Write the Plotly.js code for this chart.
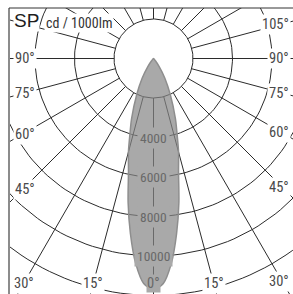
<!DOCTYPE html>
<html><head><meta charset="utf-8">
<script src="https://cdn.plot.ly/plotly-3.0.1.min.js"></script>
<style>html,body{margin:0;padding:0;background:#fff;overflow:hidden}</style>
</head><body><div id="chart" style="width:293px;height:294px"></div>
<script>
// Luminous intensity distribution (cd / 1000 lm), angle from nadir in degrees
const gammaDeg  = [0, 2.5, 5, 7.5, 10, 12.5, 15, 17.5, 20, 25, 30, 35, 40, 45];
const intensity = [11700, 11400, 10400, 8950, 7400, 5850, 4900, 3950, 3250, 2000, 1150, 500, 150, 0];
// grid
const ringValues = [2000, 4000, 6000, 8000, 10000, 12000, 14000];
const ringLabelValues = [4000, 6000, 8000, 10000];
const ringLabelText = ['4000', '6000', '8000', '10000'];
const spokeAngles = [0,15,30,45,60,75,90,105,120,135,150,165,180,195,210,225,240,255,270,285,300,315,330,345];
const angleLabelGamma = [-90, -75, -60, -45, -30, -15, 0, 15, 30, 45, 60, 75, 90, 105];
const angleLabelText  = ['90°','75°','60°','45°','30°','15°','0°','15°','30°','45°','60°','75°','90°','105°'];
const chartTitle = 'SP';
const unitText = 'cd / 1000lm';

// geometry (pixel frame)
const W = 293, H = 294, ML = 9, MT = 8;
const k = 2000 / 39.5;           // cd per pixel
const cx = 153.5, cy = 58.5;     // pole position in pixels
const dX = px => (px - cx) * k;
const dY = py => -(py - cy) * k;
const rad = d => d * Math.PI / 180;
const pol = (g, r) => [r * Math.sin(rad(g)), -r * Math.cos(rad(g))];

// rings
const rx = [], ry = [];
ringValues.forEach(v => {
  for (let a = 0; a <= 360; a += 2) { const p = pol(a, v); rx.push(p[0]); ry.push(p[1]); }
  rx.push(null); ry.push(null);
});
// spokes
const sx = [], sy = [];
spokeAngles.forEach(a => {
  const p0 = pol(a, ringValues[0]), p1 = pol(a, 20000);
  sx.push(p0[0], p1[0], null); sy.push(p0[1], p1[1], null);
});
// distribution polygon (symmetric)
const lx = [], ly = [];
for (let i = gammaDeg.length - 1; i >= 0; i--) { const p = pol(-gammaDeg[i], intensity[i]); lx.push(p[0]); ly.push(p[1]); }
for (let i = 1; i < gammaDeg.length; i++) { const p = pol(gammaDeg[i], intensity[i]); lx.push(p[0]); ly.push(p[1]); }

const gridColor = '#2b2b2b';
const fillComposite = '#a9a9a9';
const traces = [
  {x: rx, y: ry, mode: 'lines', line: {color: gridColor, width: 1}, hoverinfo: 'skip', showlegend: false},
  {x: sx, y: sy, mode: 'lines', line: {color: gridColor, width: 1}, hoverinfo: 'skip', showlegend: false},
  {x: lx, y: ly, mode: 'lines', fill: 'toself', fillcolor: 'rgba(132,132,132,0.7)',
   line: {color: '#8e8e8e', width: 1.5, shape: 'spline', smoothing: 0.8}, hoverinfo: 'skip', showlegend: false}
];

const narrow = '"Roboto Condensed", "DejaVu Sans Condensed", sans-serif';
const annotations = [];
ringLabelValues.forEach((v, i) => {
  annotations.push({x: 0, y: -v, xref: 'x', yref: 'y', text: ringLabelText[i], showarrow: false,
    font: {family: narrow, size: 13.5, color: '#686868'}, bgcolor: fillComposite, borderpad: 2,
    xanchor: 'center', yanchor: 'middle'});
});
// angle labels on an inset rectangle
const rect = {x0: 22.5, x1: 282.5, y0: 24, y1: 283.5};
angleLabelGamma.forEach((g, i) => {
  const dx = Math.sin(rad(g)), dy = Math.cos(rad(g));
  const cand = [];
  if (dx < -1e-9) cand.push({t: (rect.x0 - cx) / dx, side: 'left'});
  if (dx > 1e-9) cand.push({t: (rect.x1 - cx) / dx, side: 'right'});
  if (dy > 1e-9) cand.push({t: (rect.y1 - cy) / dy, side: 'bottom'});
  if (dy < -1e-9) cand.push({t: (rect.y0 - cy) / dy, side: 'top'});
  const best = cand.filter(c => c.t > 0).sort((a, b) => a.t - b.t)[0];
  let px = cx + best.t * dx; const py = cy + best.t * dy;
  let xanchor = 'center';
  if (best.side === 'left') { px = 13; xanchor = 'left'; }
  if (best.side === 'right' || best.side === 'top') { px = 290.5; xanchor = 'right'; }
  const inside = g === 0;
  annotations.push({x: dX(px), y: dY(py), xref: 'x', yref: 'y', text: angleLabelText[i], showarrow: false,
    font: {family: narrow, size: 14.5, color: inside ? '#686868' : '#4a4a4a'},
    bgcolor: inside ? fillComposite : '#ffffff', borderpad: inside ? 0 : 1,
    xanchor: xanchor, yanchor: 'middle'});
});
annotations.push({x: dX(13), y: dY(20), xref: 'x', yref: 'y', text: chartTitle, showarrow: false,
  font: {family: '"Liberation Sans", Arial, sans-serif', size: 19, color: '#1e1e1e'}, bgcolor: '#ffffff',
  borderpad: 0, xanchor: 'left', yanchor: 'middle'});
annotations.push({x: dX(44), y: dY(23), xref: 'x', yref: 'y', text: unitText, showarrow: false,
  font: {family: narrow, size: 14, color: '#333333'}, bgcolor: '#ffffff',
  borderpad: 1, xanchor: 'left', yanchor: 'middle'});

const layout = {
  width: W, height: H,
  margin: {l: ML, r: 0, t: MT, b: 0, pad: 0},
  paper_bgcolor: '#ffffff', plot_bgcolor: '#ffffff',
  xaxis: {range: [dX(ML), dX(W)], visible: false, fixedrange: true},
  yaxis: {range: [dY(H), dY(MT)], visible: false, fixedrange: true},
  showlegend: false,
  annotations: annotations,
  shapes: [
    {type: 'line', xref: 'paper', yref: 'paper', x0: 0, x1: 0, y0: 0, y1: 1, line: {color: '#8c8c8c', width: 2}},
    {type: 'line', xref: 'paper', yref: 'paper', x0: 0, x1: 1, y0: 1, y1: 1, line: {color: '#333333', width: 1}}
  ]
};
Plotly.newPlot('chart', traces, layout, {displayModeBar: false, staticPlot: true});
</script></body></html>
